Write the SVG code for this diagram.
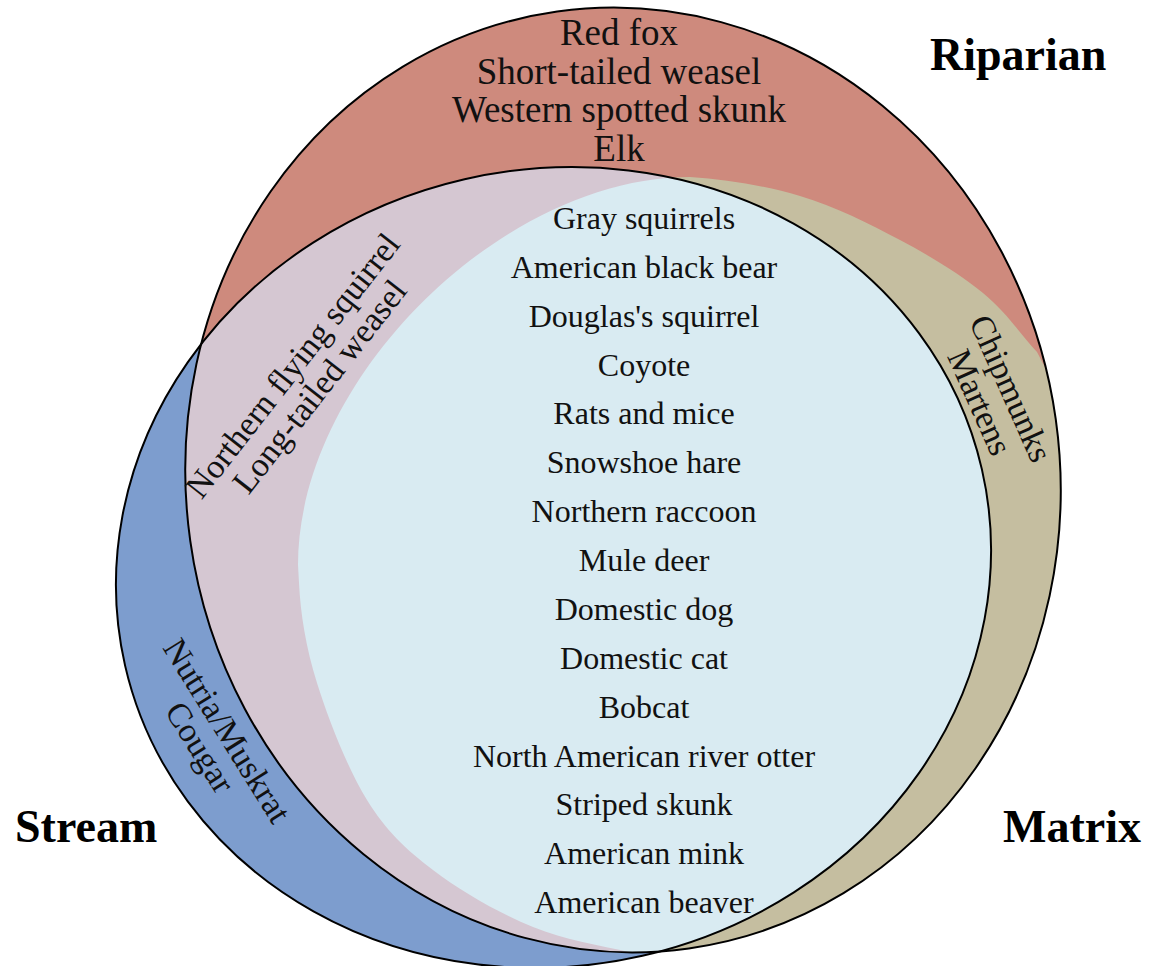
<svg xmlns="http://www.w3.org/2000/svg" width="1151" height="966" viewBox="0 0 1151 966">
<style>
.lbl{font-family:"Liberation Serif","Times New Roman",serif;fill:#111}
.sp{font-size:32px;text-anchor:middle}
.top{font-size:37px;text-anchor:middle}
.rot{font-size:34px;text-anchor:middle}
.set{font-family:"Liberation Serif","Times New Roman",serif;font-weight:bold;font-size:46px;fill:#000}
.edge{fill:none;stroke:#000;stroke-width:2}
</style>
<defs>
<ellipse id="ripE" cx="623" cy="480" rx="437" ry="473" transform="rotate(-8 623 480)"/>
<ellipse id="strE" cx="553.5" cy="567.5" rx="439.5" ry="398.3" transform="rotate(-12.9 553.5 567.5)"/>
<path id="matP" d="M641,955 C605,945.7 567.7,941.2 533,927 C498.3,912.8 460.7,891.2 433,870 C405.3,848.8 386.3,831.2 367,800 C347.7,768.8 328.3,719.2 317,683 C305.7,646.8 300.5,613.5 299,583 L298,565 C298,378.8 501.8,177 690,177 C726.7,179.7 765,185.5 800,196 C835,206.5 869.5,223.8 900,240 C930.5,256.2 960.2,274.3 983,293 C1005.8,311.7 1019,332.3 1037,352 L1075,425 L1200,425 L1200,1000 L655,1000 Z"/>
<clipPath id="clipRip"><use href="#ripE"/></clipPath>
<clipPath id="clipStr"><use href="#strE"/></clipPath>
</defs>
<g id="stream"><use href="#strE" fill="#7D9DCE"/></g>
<g id="riparian"><use href="#ripE" fill="#CE8A7D"/></g>
<g id="matrix" clip-path="url(#clipRip)"><use href="#matP" fill="#C5BEA0"/></g>
<g id="riparian-stream" clip-path="url(#clipRip)"><use href="#strE" fill="#D5C7D2"/></g>
<g id="all-three" clip-path="url(#clipRip)"><g clip-path="url(#clipStr)"><use href="#matP" fill="#D9EBF2"/></g></g>
<g id="outlines"><use href="#strE" class="edge"/><use href="#ripE" class="edge"/></g>
<g id="riparian-only-text" class="lbl top">
<text x="619" y="45">Red fox</text>
<text x="619" y="84">Short-tailed weasel</text>
<text x="619" y="122">Western spotted skunk</text>
<text x="619" y="161">Elk</text>
</g>
<g id="all-three-text" class="lbl sp">
<text x="644" y="229">Gray squirrels</text>
<text x="644" y="277.9">American black bear</text>
<text x="644" y="326.7">Douglas's squirrel</text>
<text x="644" y="375.6">Coyote</text>
<text x="644" y="424.4">Rats and mice</text>
<text x="644" y="473.3">Snowshoe hare</text>
<text x="644" y="522.2">Northern raccoon</text>
<text x="644" y="571">Mule deer</text>
<text x="644" y="619.9">Domestic dog</text>
<text x="644" y="668.7">Domestic cat</text>
<text x="644" y="717.6">Bobcat</text>
<text x="644" y="766.5">North American river otter</text>
<text x="644" y="815.3">Striped skunk</text>
<text x="644" y="864.2">American mink</text>
<text x="644" y="913">American beaver</text>
</g>
<g id="riparian-stream-text" class="lbl rot" transform="translate(315,383) rotate(-52)">
<text x="0" y="-17">Northern flying squirrel</text>
<text x="0" y="17">Long-tailed weasel</text>
</g>
<g id="riparian-matrix-text" class="lbl rot" transform="translate(985,400) rotate(66)">
<text x="0" y="-17">Chipmunks</text>
<text x="0" y="17">Martens</text>
</g>
<g id="stream-only-text" class="lbl rot" transform="translate(204,745) rotate(58)">
<text x="0" y="-16">Nutria/Muskrat</text>
<text x="0" y="16">Cougar</text>
</g>
<g id="set-labels">
<text class="set" x="930" y="70">Riparian</text>
<text class="set" x="15" y="842">Stream</text>
<text class="set" x="1003" y="842">Matrix</text>
</g>
</svg>
